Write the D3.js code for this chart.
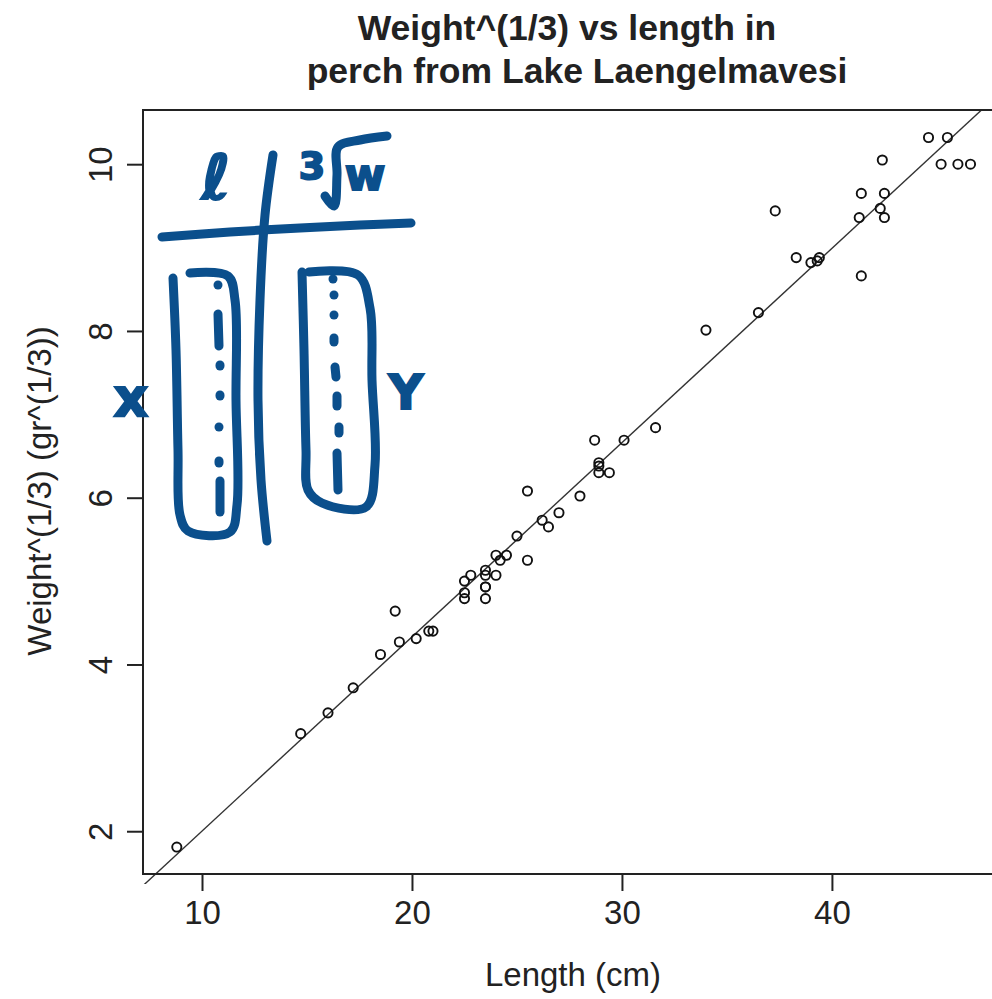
<!DOCTYPE html>
<html>
<head>
<meta charset="utf-8">
<script src="https://cdn.jsdelivr.net/npm/d3@7"></script>
<style>
  html, body { margin: 0; padding: 0; background: #fff; }
  svg { display: block; }
  text { font-family: "Liberation Sans", Arial, sans-serif; fill: #222; }
</style>
</head>
<body>
<svg id="chart" width="992" height="999"></svg>
<script>
// Perch from Lake Laengelmavesi: total length (cm) and cube root of weight (g^(1/3))
const lengthCm = [
  8.8, 14.7, 16.0, 17.2, 18.5, 19.2, 19.4, 20.2, 20.8, 21.0,
  22.5, 22.5, 22.5, 22.8, 23.5, 23.5, 23.5, 23.5, 23.5, 24.0,
  24.0, 24.2, 24.5, 25.0, 25.5, 25.5, 26.2, 26.5, 27.0, 28.0,
  28.7, 28.9, 28.9, 28.9, 29.4, 30.1, 31.6, 34.0, 36.5, 37.3,
  39.0, 38.3, 39.4, 39.3, 41.4, 41.4, 41.3, 42.3, 42.5, 42.4,
  42.5, 44.6, 45.2, 45.5, 46.0, 46.6
];
const cubeRootWeight = [
  1.81, 3.17, 3.42, 3.72, 4.12, 4.64, 4.27, 4.31, 4.40, 4.40,
  4.79, 4.86, 5.00, 5.07, 4.93, 4.93, 5.07, 5.13, 4.79, 5.07,
  5.31, 5.25, 5.31, 5.54, 6.08, 5.25, 5.73, 5.65, 5.82, 6.02,
  6.69, 6.38, 6.42, 6.30, 6.30, 6.69, 6.84, 8.01, 8.22, 9.44,
  8.82, 8.88, 8.88, 8.84, 9.65, 8.66, 9.36, 9.47, 9.65, 10.05,
  9.36, 10.32, 10.00, 10.32, 10.00, 10.00
];
const xTicks = [10, 20, 30, 40];
const yTicks = [2, 4, 6, 8, 10];
const titleLines = ["Weight^(1/3) vs length in", "perch from Lake Laengelmavesi"];
const xLabel = "Length (cm)";
const yLabel = "Weight^(1/3) (gr^(1/3))";

const svg = d3.select("#chart");
const plot = { left: 143, right: 1002, top: 110, bottom: 874 };

const x = d3.scaleLinear().domain([7.19, 48.1]).range([plot.left, plot.right]);
const y = d3.scaleLinear().domain([1.487, 10.65]).range([plot.bottom, plot.top]);

// Title
svg.append("g").selectAll("text").data(titleLines).join("text")
  .attr("x", (d, i) => i === 0 ? 567 : 577)
  .attr("y", (d, i) => 40 + i * 43)
  .attr("text-anchor", "middle")
  .style("font-size", "35.5px")
  .style("font-weight", "bold")
  .text(d => d);

// Least-squares fit of cube-root weight on length
const pts = lengthCm.map((l, i) => [l, cubeRootWeight[i]]);
const mx = d3.mean(lengthCm), my = d3.mean(cubeRootWeight);
const sxy = d3.sum(pts, p => (p[0] - mx) * (p[1] - my));
const sxx = d3.sum(pts, p => (p[0] - mx) ** 2);
const slope = sxy / sxx, intercept = my - slope * mx;

svg.append("clipPath").attr("id", "fitclip").append("rect")
  .attr("x", plot.left - 10).attr("y", plot.top)
  .attr("width", plot.right - plot.left + 10).attr("height", plot.bottom - plot.top + 10);

const fitX = [x.invert(plot.left - 10), x.invert(plot.right)];
svg.append("line")
  .attr("clip-path", "url(#fitclip)")
  .attr("x1", x(fitX[0])).attr("y1", y(intercept + slope * fitX[0]))
  .attr("x2", x(fitX[1])).attr("y2", y(intercept + slope * fitX[1]))
  .attr("stroke", "#333").attr("stroke-width", 1.4);

// Points
svg.append("g").selectAll("circle").data(pts).join("circle")
  .attr("cx", d => x(d[0])).attr("cy", d => y(d[1]))
  .attr("r", 4.6)
  .attr("fill", "none").attr("stroke", "#111").attr("stroke-width", 1.9);

// Frame
svg.append("path")
  .attr("d", `M${plot.right},${plot.top}H${plot.left}V${plot.bottom}H${plot.right}`)
  .attr("fill", "none").attr("stroke", "#222").attr("stroke-width", 2);

// X axis
const xAxis = svg.append("g").attr("transform", `translate(0,${plot.bottom})`)
  .call(d3.axisBottom(x).tickValues(xTicks).tickSize(17).tickPadding(10).tickFormat(d3.format("d")));
xAxis.select(".domain").remove();
xAxis.selectAll("line").attr("stroke", "#222").attr("stroke-width", 2);
xAxis.selectAll("text").style("font-size", "33px").attr("fill", "#222")
  .style("font-family", "'Liberation Sans', Arial, sans-serif");

// Y axis with rotated tick labels
const yAxis = svg.append("g").attr("transform", `translate(${plot.left},0)`)
  .call(d3.axisLeft(y).tickValues(yTicks).tickSize(16).tickFormat(d3.format("d")));
yAxis.select(".domain").remove();
yAxis.selectAll("line").attr("stroke", "#222").attr("stroke-width", 2);
yAxis.selectAll("text")
  .attr("x", null).attr("dy", null)
  .attr("text-anchor", "middle")
  .attr("transform", "translate(-31,0) rotate(-90)")
  .attr("y", 0)
  .style("font-size", "33px").attr("fill", "#222")
  .style("font-family", "'Liberation Sans', Arial, sans-serif");

// Axis titles
svg.append("text")
  .attr("x", 573).attr("y", 986)
  .attr("text-anchor", "middle")
  .style("font-size", "33px")
  .text(xLabel);
svg.append("text")
  .attr("transform", "translate(51,491) rotate(-90)")
  .attr("text-anchor", "middle")
  .style("font-size", "33px")
  .text(yLabel);

// Hand-drawn ink notes over the plot: a T-chart pairing length (x) with cube-root weight (y)
const ink = "#0b4f8c";
const inkStrokes = [
  [[162, 237], [230, 232], [300, 228], [360, 225], [411, 223]],
  [[273, 155], [265, 215], [260, 300], [258, 400], [261, 480], [267, 541]],
  [[173, 278], [176, 350], [178, 450], [180, 515], [188, 531], [230, 532], [237, 505], [236, 400], [235, 300], [228, 276], [190, 273]],
  [[302, 272], [304, 350], [306, 450], [308, 490], [322, 503], [366, 507], [375, 465], [372, 380], [370, 308], [358, 275], [309, 272]],
  [[325, 196], [334, 206], [337, 175], [338, 147], [360, 140], [387, 136]]
];
const inkLine = d3.line().curve(d3.curveCatmullRom.alpha(0.5));
svg.append("g").selectAll("path").data(inkStrokes).join("path")
  .attr("d", inkLine)
  .attr("fill", "none").attr("stroke", ink).attr("stroke-width", 9)
  .attr("stroke-linecap", "round").attr("stroke-linejoin", "round");

// Dotted columns inside the two boxes
const inkDots = [
  [[218, 285], [218, 285]], [[218, 314], [219, 346]], [[220, 365], [220, 366]], [[220, 395], [220, 396]],
  [[219, 427], [219, 427]], [[219, 461], [219, 463]], [[220, 481], [220, 512]],
  [[333, 279], [333, 279]], [[334, 295], [334, 295]], [[334, 315], [334, 315]], [[334, 338], [334, 342]],
  [[335, 367], [336, 377]], [[337, 396], [337, 406]], [[339, 427], [339, 433]], [[337, 453], [338, 490]]
];
svg.append("g").selectAll("path").data(inkDots).join("path")
  .attr("d", d => `M${d[0][0]},${d[0][1]}L${d[1][0]},${d[1][1]}`)
  .attr("fill", "none").attr("stroke", ink).attr("stroke-width", 9)
  .attr("stroke-linecap", "round");

// Handwritten labels
const inkText = (t, px, py, size) => svg.append("text")
  .attr("x", px).attr("y", py).attr("text-anchor", "middle")
  .style("font-family", "'DejaVu Sans', sans-serif")
  .style("font-size", size + "px").style("font-weight", "bold")
  .style("fill", ink).attr("stroke", ink).attr("stroke-width", 2)
  .text(t);
inkText("ℓ", 216, 199, 62);
inkText("3", 312, 179, 38);
inkText("w", 365, 190, 44);
inkText("x", 131, 416, 54);
inkText("Y", 406, 409, 48);
</script>
</body>
</html>
